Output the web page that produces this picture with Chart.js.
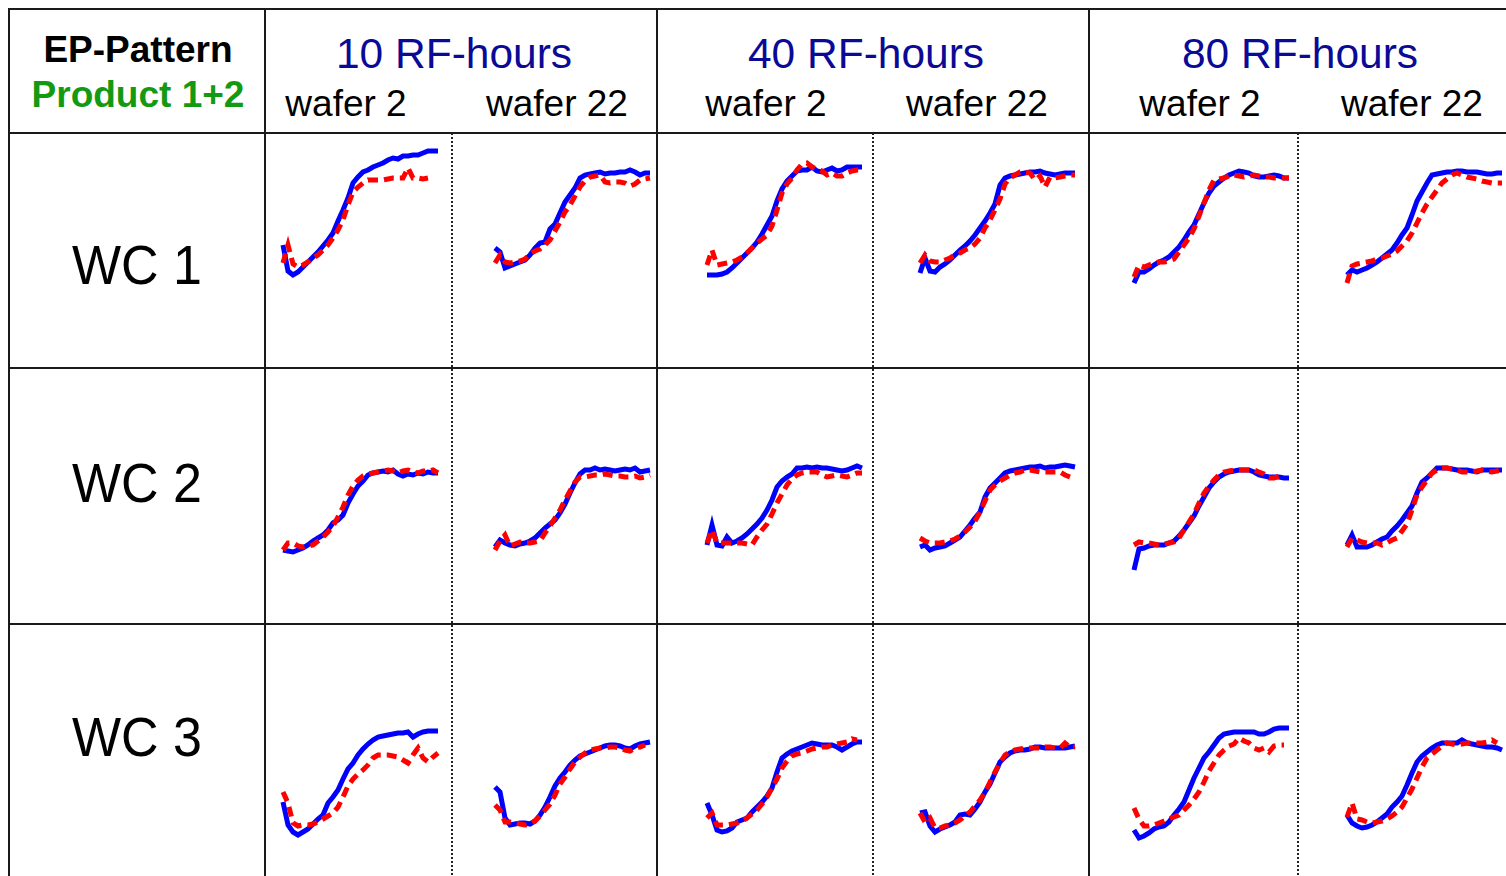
<!DOCTYPE html>
<html>
<head>
<meta charset="utf-8">
<script src="https://cdn.jsdelivr.net/npm/chart.js@4.4.1/dist/chart.umd.min.js"></script>
<style>
  html, body { margin: 0; padding: 0; background: #fff; width: 1506px; height: 876px; overflow: hidden; }
  #sheet { position: relative; width: 1506px; height: 876px; font-family: Arial, "Liberation Sans", sans-serif; }
  .hl { position: absolute; height: 2px; background: #1a1a1a; }
  .vl { position: absolute; width: 2px; background: #1a1a1a; }
  .dl { position: absolute; width: 2px; background: repeating-linear-gradient(to bottom, #222 0 2px, transparent 2px 4px); }
  .tx { position: absolute; white-space: nowrap; line-height: 1; transform: translateX(-50%); }
  .tall { transform: translateX(-50%) scaleY(1.06); transform-origin: 50% 0; }
  canvas.panel { position: absolute; }
</style>
</head>
<body>
<div id="sheet"></div>
<script>
// ---- labels ----
const titleLine1 = 'EP-Pattern';
const titleLine2 = 'Product 1+2';
const rowLabels = ['WC 1', 'WC 2', 'WC 3'];
const rfHours = ['10 RF-hours', '40 RF-hours', '80 RF-hours'];
const wafers = ['wafer 2', 'wafer 22'];

// sample times (s) shared by every trace
const sampleTimes = ['0','2','4','6','8','10','12','14','16','18','20','22','24','26','28','30',
                     '32','34','36','38','40','42','44','46','48','50','52','54','56','58','60','62'];

// ---- WC 1 traces (blue = solid, red = dashed) ----
const wc1_rf10_w2_blue  = [55,29,25,28,33,38,43,48,54,60,67,79,90,102,117,123,128,130,133,135,137,140,142,141,144,144,145,145,147,149,149,149];
const wc1_rf10_w2_red   = [37,55,36,33,35,38,42,45,50,55,62,70,80,95,108,113,117,120,120,120,120,121,122,122,122,132,122,122,121,122,null,null];
const wc1_rf10_w22_blue = [52,48,32,34,36,38,40,45,52,57,58,71,76,87,98,105,112,122,125,126,127,128,126,127,127,128,128,130,128,125,127,127];
const wc1_rf10_w22_red  = [37,45,38,37,38,39,41,46,49,51,55,60,69,78,88,95,104,113,119,123,124,125,118,117,118,118,117,114,116,120,121,122];
const wc1_rf40_w2_blue  = [25,25,25,26,28,32,37,42,47,52,58,66,75,84,99,111,119,124,129,130,130,133,129,128,130,132,129,130,133,133,133,133];
const wc1_rf40_w2_red   = [35,50,35,36,37,38,40,43,47,52,57,61,65,74,90,107,116,122,130,136,137,133,131,129,125,127,124,124,127,129,130,130];
const wc1_rf40_w22_blue = [27,42,29,28,33,36,40,45,50,54,59,65,72,79,87,96,115,122,124,125,126,127,128,128,129,127,126,125,126,127,127,127];
const wc1_rf40_w22_red  = [37,45,39,38,38,40,42,45,47,50,52,56,62,72,80,90,101,116,122,125,128,128,127,120,124,113,123,122,123,124,125,125];
const wc1_rf80_w2_blue  = [17,28,28,31,35,38,40,43,48,53,60,68,75,86,97,107,114,118,122,125,127,129,128,127,124,123,123,124,125,124,122,122];
const wc1_rf80_w2_red   = [23,35,33,35,37,38,38,39,41,48,55,62,71,84,97,110,120,121,122,124,125,124,123,124,125,124,123,123,122,122,122,122];
const wc1_rf80_w22_blue = [25,30,28,30,32,35,38,42,46,50,57,65,72,85,99,108,117,125,126,127,128,128,129,129,128,128,128,127,126,126,127,127];
const wc1_rf80_w22_red  = [17,34,36,37,38,39,41,42,44,46,49,54,59,67,77,87,96,103,110,117,121,125,127,125,123,122,121,119,118,117,117,117];

// ---- WC 2 traces ----
const wc2_rf10_w2_blue  = [30,29,28,30,32,35,39,42,45,50,57,60,65,77,86,94,99,105,107,108,109,108,110,106,104,106,105,107,106,108,107,107];
const wc2_rf10_w2_red   = [30,37,37,34,33,34,35,39,43,48,54,63,73,85,94,100,104,106,107,108,109,110,109,107,109,110,108,107,109,109,110,107];
const wc2_rf10_w22_blue = [33,40,37,35,34,36,37,39,42,47,52,56,60,67,76,87,97,106,110,110,112,110,111,110,109,110,111,110,112,108,109,110];
const wc2_rf10_w22_red  = [30,39,45,34,36,38,37,37,38,39,47,54,62,70,80,89,98,103,103,104,105,105,106,105,104,104,103,103,104,102,103,105];
const wc2_rf40_w2_blue  = [35,55,35,34,43,37,39,42,46,51,56,62,70,80,93,99,103,106,112,112,113,112,113,112,112,111,110,109,110,112,114,112];
const wc2_rf40_w2_red   = [37,50,37,37,37,37,37,37,36,35,43,50,56,66,77,86,95,101,105,107,108,108,108,105,103,104,105,104,103,105,107,107];
const wc2_rf40_w22_blue = [33,35,30,32,33,34,37,40,43,49,55,62,68,83,92,97,102,107,109,110,111,112,113,113,114,112,113,113,114,115,114,113];
const wc2_rf40_w22_red  = [42,39,37,37,37,38,39,41,44,48,53,59,68,79,90,95,99,102,105,107,108,110,110,109,108,108,108,108,108,105,103,null];
const wc2_rf80_w2_blue  = [10,31,32,34,35,35,35,37,39,44,50,57,64,74,83,92,98,103,106,108,109,110,110,110,108,105,104,103,103,103,102,102];
const wc2_rf80_w2_red   = [35,38,37,37,36,35,36,37,38,42,50,58,66,77,87,94,100,105,108,109,110,110,110,110,110,108,106,102,102,104,105,null];
const wc2_rf80_w22_blue = [35,45,33,33,33,35,38,41,43,49,54,60,67,74,87,98,102,107,112,112,112,111,110,110,110,109,108,110,110,110,110,110];
const wc2_rf80_w22_red  = [33,42,40,38,37,37,37,35,37,40,42,49,56,70,85,93,100,107,110,112,112,111,110,108,108,108,109,110,109,108,109,110];

// ---- WC 3 traces ----
const wc3_rf10_w2_blue  = [58,35,28,25,28,31,36,41,45,57,63,70,81,91,97,105,111,116,120,123,124,125,126,127,127,128,123,126,128,129,129,129];
const wc3_rf10_w2_red   = [68,57,37,34,35,35,36,38,41,44,47,53,63,74,81,86,90,95,102,105,105,105,104,103,100,97,105,112,102,98,103,107];
const wc3_rf10_w22_blue = [73,68,42,35,36,37,37,36,39,45,53,63,74,82,88,95,100,104,106,108,110,112,114,115,115,114,112,111,114,116,117,118];
const wc3_rf10_w22_red  = [55,50,38,38,37,36,35,36,39,44,50,56,65,76,83,91,98,103,107,110,111,112,112,113,113,112,110,109,112,113,115,null];
const wc3_rf40_w2_blue  = [57,45,30,28,29,32,38,40,42,48,53,58,64,72,88,102,106,109,111,113,115,117,116,115,115,115,113,110,113,116,118,118];
const wc3_rf40_w2_red   = [42,47,35,35,35,36,37,39,42,46,50,56,63,72,81,92,99,104,106,107,109,111,112,113,113,115,116,117,118,121,120,null];
const wc3_rf40_w22_blue = [47,48,34,28,31,33,35,38,45,46,45,51,58,68,76,87,98,103,107,109,110,110,111,113,113,112,112,112,112,112,113,114];
const wc3_rf40_w22_red  = [47,38,42,32,32,34,35,37,40,44,48,54,60,68,78,88,97,105,108,110,111,112,112,112,112,113,113,112,112,117,113,113];
const wc3_rf80_w2_blue  = [30,22,24,27,31,33,34,38,45,51,58,70,82,92,102,108,115,122,126,127,128,128,128,128,128,126,126,128,131,132,132,132];
const wc3_rf80_w2_red   = [52,41,34,34,35,37,39,41,43,45,50,55,61,68,78,89,97,105,110,114,116,122,119,117,112,110,112,108,114,115,115,null];
const wc3_rf80_w22_blue = [45,37,34,32,33,35,38,42,46,53,58,64,75,87,98,104,108,112,115,117,117,117,117,120,117,116,115,114,113,113,112,110];
const wc3_rf80_w22_red  = [43,57,41,40,38,37,38,39,41,44,48,53,62,71,82,93,102,106,110,114,117,116,115,116,117,117,117,117,118,120,117,null];

// panel grid: rows = WC, columns = RF-hours x wafer
const panels = [
  [[wc1_rf10_w2_blue, wc1_rf10_w2_red], [wc1_rf10_w22_blue, wc1_rf10_w22_red],
   [wc1_rf40_w2_blue, wc1_rf40_w2_red], [wc1_rf40_w22_blue, wc1_rf40_w22_red],
   [wc1_rf80_w2_blue, wc1_rf80_w2_red], [wc1_rf80_w22_blue, wc1_rf80_w22_red]],
  [[wc2_rf10_w2_blue, wc2_rf10_w2_red], [wc2_rf10_w22_blue, wc2_rf10_w22_red],
   [wc2_rf40_w2_blue, wc2_rf40_w2_red], [wc2_rf40_w22_blue, wc2_rf40_w22_red],
   [wc2_rf80_w2_blue, wc2_rf80_w2_red], [wc2_rf80_w22_blue, wc2_rf80_w22_red]],
  [[wc3_rf10_w2_blue, wc3_rf10_w2_red], [wc3_rf10_w22_blue, wc3_rf10_w22_red],
   [wc3_rf40_w2_blue, wc3_rf40_w2_red], [wc3_rf40_w22_blue, wc3_rf40_w22_red],
   [wc3_rf80_w2_blue, wc3_rf80_w2_red], [wc3_rf80_w22_blue, wc3_rf80_w22_red]]
];

// ---- table layout ----
const sheet = document.getElementById('sheet');
const W = 1506, H = 876;
const gridTop = 9, gridLeft = 9;
const rowLines = [9, 133, 368, 624];
const colLines = [9, 265, 657, 1089];
const waferSplits = [452, 873, 1298];

function el(cls, css, text) {
  const d = document.createElement('div');
  d.className = cls;
  Object.assign(d.style, css);
  if (text !== undefined) d.textContent = text;
  sheet.appendChild(d);
  return d;
}

rowLines.forEach(y => el('hl', { left: gridLeft - 1 + 'px', top: y - 1 + 'px', width: W - gridLeft + 1 + 'px' }));
colLines.forEach(x => el('vl', { left: x - 1 + 'px', top: gridTop - 1 + 'px', height: H - gridTop + 1 + 'px' }));
waferSplits.forEach(x => el('dl', { left: x - 1 + 'px', top: rowLines[1] + 'px', height: H - rowLines[1] + 'px' }));

// header texts
el('tx', { left: '138px', top: '31px', fontSize: '37px', fontWeight: 'bold', color: '#000' }, titleLine1);
el('tx', { left: '138px', top: '76px', fontSize: '37px', fontWeight: 'bold', color: '#129a12' }, titleLine2);

const rfCenters = [454, 866, 1300];
rfHours.forEach((t, i) => el('tx', { left: rfCenters[i] + 'px', top: '33px', fontSize: '42.5px', color: '#0a0a96' }, t));

const waferCenters = [346, 557, 766, 977, 1200, 1412];
waferCenters.forEach((x, i) => el('tx', { left: x + 'px', top: '85px', fontSize: '37px', color: '#000' }, wafers[i % 2]));

const rowLabelTops = [237, 455, 709];
rowLabels.forEach((t, i) => el('tx tall', { left: '137px', top: rowLabelTops[i] + 'px', fontSize: '52px', color: '#000' }, t));

// ---- small trace panels ----
const panelLeft = [283, 495, 707, 920, 1134, 1347];   // first sample of each column
const panelBase = [300, 580, 860];                    // zero level of each row
const yRange = 180, pad = 5, padBottom = 10;
const plotWidth = 155;

panels.forEach((row, r) => {
  row.forEach((pair, c) => {
    const cv = document.createElement('canvas');
    cv.className = 'panel';
    cv.width = plotWidth + 2 * pad;
    cv.height = yRange + padBottom;
    cv.style.left = (panelLeft[c] - pad) + 'px';
    cv.style.top = (panelBase[r] - yRange) + 'px';
    sheet.appendChild(cv);
    new Chart(cv, {
      type: 'line',
      data: {
        labels: sampleTimes,
        datasets: [
          { label: 'dashed trace', data: pair[1], borderColor: '#ff0000', borderWidth: 5,
            borderDash: [10, 6], pointRadius: 0, tension: 0, fill: false, order: 0, clip: false },
          { label: 'solid trace', data: pair[0], borderColor: '#0000ff', borderWidth: 5,
            pointRadius: 0, tension: 0, fill: false, order: 1, clip: false }
        ]
      },
      options: {
        responsive: false,
        animation: false,
        devicePixelRatio: 1,
        events: [],
        layout: { padding: { left: pad, right: pad, top: 0, bottom: padBottom } },
        plugins: { legend: { display: false }, tooltip: { enabled: false } },
        elements: { line: { borderJoinStyle: 'miter', borderCapStyle: 'butt' } },
        scales: {
          x: { display: false, offset: false },
          y: { display: false, min: 0, max: yRange }
        }
      }
    });
  });
});
</script>
</body>
</html>
